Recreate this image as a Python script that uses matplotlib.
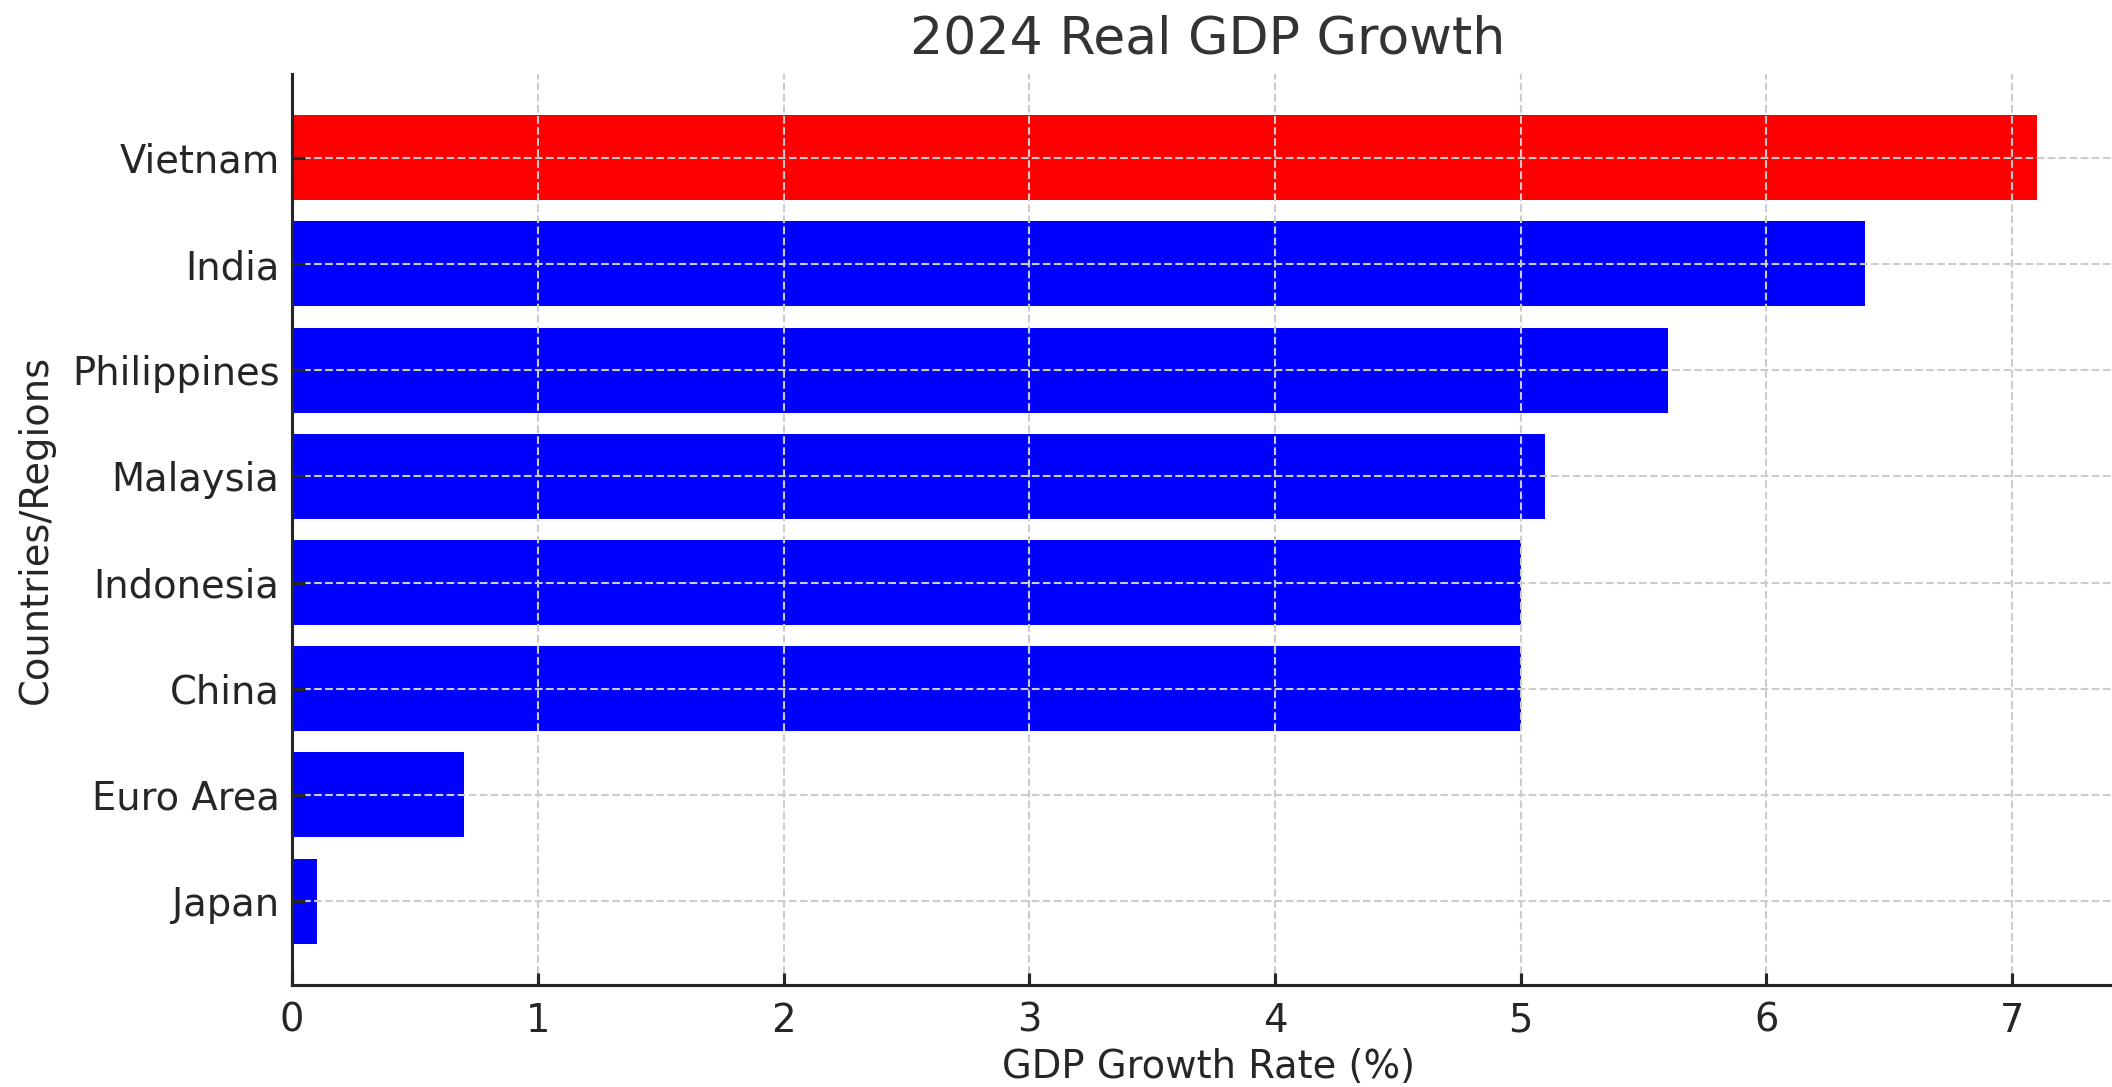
import matplotlib.pyplot as plt

countries = ["Vietnam", "India", "Philippines", "Malaysia", "Indonesia", "China", "Euro Area", "Japan"]
growth = [7.1, 6.4, 5.6, 5.1, 5.0, 5.0, 0.7, 0.1]
colors = ["red" if c == "Vietnam" else "blue" for c in countries]

text_color = "#262626"
plt.rcParams["font.family"] = "DejaVu Sans"
plt.rcParams["text.color"] = text_color
plt.rcParams["axes.labelcolor"] = text_color
plt.rcParams["xtick.color"] = text_color
plt.rcParams["ytick.color"] = text_color

fig = plt.figure(figsize=(14.08, 7.247), dpi=150)
ax = fig.add_axes([0.1383, 0.0938, 0.8674, 0.8382])

# reverse so the first country sits at the top
ax.barh(countries[::-1], growth[::-1], color=colors[::-1], height=0.8, zorder=2)

ax.set_xlim(0, 7.455)
ax.set_title("2024 Real GDP Growth", fontsize=25, color="#333333", pad=10)
ax.set_xlabel("GDP Growth Rate (%)", fontsize=18.5, labelpad=4)
ax.set_ylabel("Countries/Regions", fontsize=18.5, labelpad=8)

ax.grid(True, linestyle="--", color="#cccccc", linewidth=1.0, zorder=0)
ax.set_axisbelow(False)
for line in ax.get_xgridlines() + ax.get_ygridlines():
    line.set_zorder(3)

ax.spines["top"].set_visible(False)
ax.spines["right"].set_visible(False)
for s in ["left", "bottom"]:
    ax.spines[s].set_color("#262626")
    ax.spines[s].set_linewidth(1.5)
    ax.spines[s].set_zorder(4)

ax.tick_params(axis="both", direction="in", length=6, width=1.5, labelsize=18.5)
ax.tick_params(axis="y", pad=6)
ax.tick_params(axis="x", pad=8)

plt.savefig("out.png", dpi=150)
